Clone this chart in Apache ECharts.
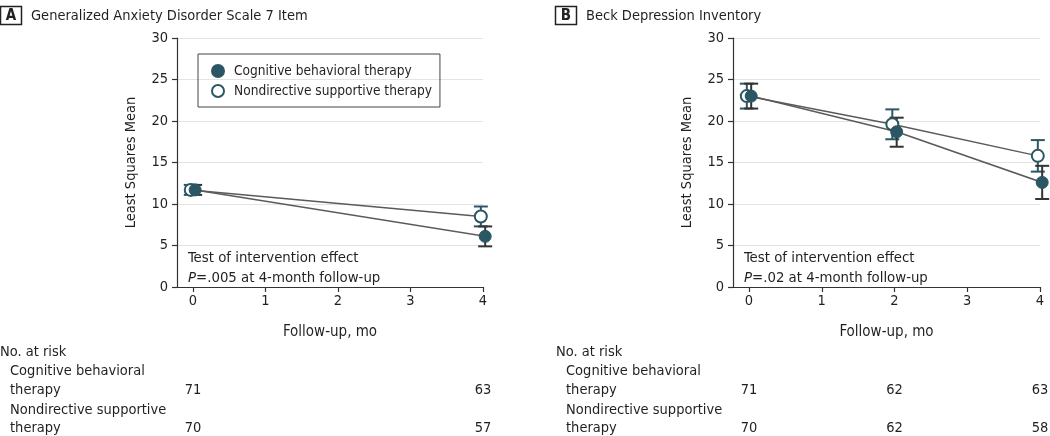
<!DOCTYPE html>
<html>
<head>
<meta charset="utf-8">
<script src="https://cdn.jsdelivr.net/npm/echarts@6/dist/echarts.min.js"></script>
<style>
html,body{margin:0;padding:0;background:#fff;}
#c{width:1050px;height:436px;}
</style>
</head>
<body>
<div id="c"></div>
<script>
// ---------- data ----------
const xTicks = [0, 1, 2, 3, 4];
const seriesNames = ['Cognitive behavioral therapy', 'Nondirective supportive therapy'];

const panelA_x = [0, 4];
const cbtA_mean = [11.7, 6.1];
const cbtA_lo   = [11.1, 4.9];
const cbtA_hi   = [12.3, 7.3];
const nstA_mean = [11.7, 8.5];
const nstA_lo   = [11.1, 7.3];
const nstA_hi   = [12.3, 9.7];

const panelB_x = [0, 2, 4];
const cbtB_mean = [23.0, 18.7, 12.6];
const cbtB_lo   = [21.5, 16.9, 10.6];
const cbtB_hi   = [24.5, 20.4, 14.6];
const nstB_mean = [23.0, 19.6, 15.8];
const nstB_lo   = [21.5, 17.8, 13.9];
const nstB_hi   = [24.5, 21.4, 17.7];

const riskA_cbt = [71, 63];
const riskA_nst = [70, 57];
const riskB_cbt = [71, 62, 63];
const riskB_nst = [70, 62, 58];

const titleA = 'Generalized Anxiety Disorder Scale 7 Item';
const titleB = 'Beck Depression Inventory';
const yName = 'Least Squares Mean';
const xName = 'Follow-up, mo';
const noteA = ['Test of intervention effect', '=.005 at 4-month follow-up'];
const noteB = ['Test of intervention effect', '=.02 at 4-month follow-up'];

// ---------- style ----------
const FONT = "'Liberation Sans Narrow', 'DejaVu Sans Condensed', 'Roboto Condensed', 'Liberation Sans', sans-serif";
const TXT = '#231f20';
const TEAL = '#2b5663';
const DARK = '#333333';
const LINE = '#5a5a5a';
const DODGE = 0.03;

const chart = echarts.init(document.getElementById('c'));

function mkX(gi) {
  return {
    type: 'value', gridIndex: gi, min: -0.22, max: 4, interval: 1,
    axisLine: {show: true, onZero: false, lineStyle: {color: DARK, width: 1.2}},
    axisTick: {show: true, length: 5, lineStyle: {color: DARK, width: 1.2},
      customValues: xTicks},
    axisLabel: {color: TXT, fontSize: 14.5, fontFamily: FONT, margin: 7,
      customValues: xTicks},
    splitLine: {show: false},
    name: xName, nameLocation: 'middle', nameGap: 38,
    nameTextStyle: {color: TXT, fontSize: 15, fontFamily: FONT}
  };
}
function mkY(gi) {
  return {
    type: 'value', gridIndex: gi, min: 0, max: 30, interval: 5,
    axisLine: {show: true, onZero: false, lineStyle: {color: DARK, width: 1.2}},
    axisTick: {show: true, length: 5, lineStyle: {color: DARK, width: 1.2}},
    axisLabel: {color: TXT, fontSize: 14.5, fontFamily: FONT, margin: 9},
    splitLine: {show: true, lineStyle: {color: '#e3e3e3', width: 1.2}},
    name: yName, nameLocation: 'middle', nameGap: 38, nameRotate: 90,
    nameTextStyle: {color: TXT, fontSize: 14.5, fontFamily: FONT}
  };
}
function mkRiskX(gi) {
  return {type: 'value', gridIndex: gi, min: -0.22, max: 4, show: false};
}
function mkRiskY(gi) {
  return {type: 'category', gridIndex: gi, data: ['cbt', 'nst'], boundaryGap: false,
    inverse: true, show: false};
}

function errSeries(name, xs, lo, hi, gi, off, color) {
  return {
    type: 'custom', name: name, xAxisIndex: gi, yAxisIndex: gi, z: 2,
    clip: false, silent: true,
    data: xs.map((x, i) => [x + off, lo[i], hi[i]]),
    renderItem: function (params, api) {
      const p1 = api.coord([api.value(0), api.value(1)]);
      const p2 = api.coord([api.value(0), api.value(2)]);
      const w = 7;
      const st = {stroke: color, lineWidth: 2, fill: null};
      return {type: 'group', children: [
        {type: 'line', shape: {x1: p1[0], y1: p1[1], x2: p2[0], y2: p2[1]}, style: st},
        {type: 'line', shape: {x1: p1[0] - w, y1: p1[1], x2: p1[0] + w, y2: p1[1]}, style: st},
        {type: 'line', shape: {x1: p2[0] - w, y1: p2[1], x2: p2[0] + w, y2: p2[1]}, style: st}
      ]};
    }
  };
}
function lineSeries(name, xs, ys, gi, off, hollow) {
  return {
    type: 'line', name: name, xAxisIndex: gi, yAxisIndex: gi, z: 3,
    clip: false,
    data: xs.map((x, i) => [x + off, ys[i]]),
    symbol: 'circle', symbolSize: 12, showSymbol: true,
    lineStyle: {color: LINE, width: 1.5},
    itemStyle: hollow ? {color: '#ffffff', borderColor: TEAL, borderWidth: 2}
                      : {color: TEAL, borderColor: TEAL, borderWidth: 1},
    emphasis: {disabled: true}
  };
}
function riskSeries(xs, vals, row, gi) {
  return {
    type: 'custom', xAxisIndex: gi, yAxisIndex: gi, silent: true, clip: false,
    data: xs.map((x, i) => [x, row, vals[i]]),
    renderItem: function (params, api) {
      const p = api.coord([api.value(0), api.value(1)]);
      return {type: 'text', x: p[0], y: p[1],
        style: {text: String(vals[params.dataIndex]), fill: TXT, fontSize: 14.5,
          fontFamily: FONT, align: 'center', verticalAlign: 'middle'}};
    }
  };
}

function panelHeader(letter, title, x0) {
  return [
    {type: 'rect', shape: {x: x0 + 0.5, y: 6.5, width: 21, height: 18},
     style: {fill: '#fff', stroke: '#222', lineWidth: 1.5}},
    {type: 'text', x: x0 + 11, y: 16,
     style: {text: letter, fontSize: 15, fontWeight: 'bold', fontFamily: FONT,
       fill: '#222', align: 'center', verticalAlign: 'middle'}},
    {type: 'text', x: x0 + 31, y: 16,
     style: {text: title, fontSize: 14.5, fontFamily: FONT, fill: TXT,
       align: 'left', verticalAlign: 'middle'}}
  ];
}
function note(lines, x) {
  return [
    {type: 'text', x: x, y: 258,
     style: {text: lines[0], fontSize: 14.8, fontFamily: FONT, fill: TXT, verticalAlign: 'middle'}},
    {type: 'text', x: x, y: 278,
     style: {rich: {i: {fontStyle: 'italic', fontSize: 14.8, fontFamily: FONT, fill: TXT},
                    n: {fontSize: 14.8, fontFamily: FONT, fill: TXT}},
       text: '{i|P}{n|' + lines[1] + '}', verticalAlign: 'middle'}}
  ];
}
function riskLabels(x) {
  const s = (t, xx, y) => ({type: 'text', x: xx, y: y,
    style: {text: t, fontSize: 14.5, fontFamily: FONT, fill: TXT, verticalAlign: 'middle'}});
  return [
    s('No. at risk', x, 352),
    s('Cognitive behavioral', x + 10, 371),
    s('therapy', x + 10, 390),
    s('Nondirective supportive', x + 10, 410),
    s('therapy', x + 10, 428)
  ];
}

const option = {
  animation: false,
  backgroundColor: '#fff',
  textStyle: {fontFamily: FONT},
  grid: [
    {left: 177, top: 38, width: 306, height: 249},
    {left: 733, top: 38, width: 307, height: 249},
    {left: 177, top: 390, width: 306, height: 38},
    {left: 733, top: 390, width: 307, height: 38}
  ],
  xAxis: [mkX(0), mkX(1), mkRiskX(2), mkRiskX(3)],
  yAxis: [mkY(0), mkY(1), mkRiskY(2), mkRiskY(3)],
  legend: {
    data: seriesNames, orient: 'vertical', left: 198, top: 54,
    icon: 'circle', itemWidth: 12, itemHeight: 12, itemGap: 6,
    padding: [10, 8, 9, 13], borderColor: '#444', borderWidth: 1,
    textStyle: {color: TXT, fontSize: 13.6, fontFamily: FONT, padding: [0, 0, 0, 5]},
    selectedMode: false
  },
  graphic: [].concat(
    panelHeader('A', titleA, 0),
    panelHeader('B', titleB, 555),
    note(noteA, 188),
    note(noteB, 744),
    riskLabels(0),
    riskLabels(556)
  ),
  series: [
    errSeries('nstErrA', panelA_x, nstA_lo, nstA_hi, 0, -DODGE, TEAL),
    errSeries('cbtErrA', panelA_x, cbtA_lo, cbtA_hi, 0, DODGE, DARK),
    lineSeries(seriesNames[1], panelA_x, nstA_mean, 0, -DODGE, true),
    lineSeries(seriesNames[0], panelA_x, cbtA_mean, 0, DODGE, false),
    errSeries('nstErrB', panelB_x, nstB_lo, nstB_hi, 1, -DODGE, TEAL),
    errSeries('cbtErrB', panelB_x, cbtB_lo, cbtB_hi, 1, DODGE, DARK),
    lineSeries(seriesNames[1], panelB_x, nstB_mean, 1, -DODGE, true),
    lineSeries(seriesNames[0], panelB_x, cbtB_mean, 1, DODGE, false),
    riskSeries(panelA_x, riskA_cbt, 'cbt', 2),
    riskSeries(panelA_x, riskA_nst, 'nst', 2),
    riskSeries(panelB_x, riskB_cbt, 'cbt', 3),
    riskSeries(panelB_x, riskB_nst, 'nst', 3)
  ]
};
chart.setOption(option);
</script>
</body>
</html>
